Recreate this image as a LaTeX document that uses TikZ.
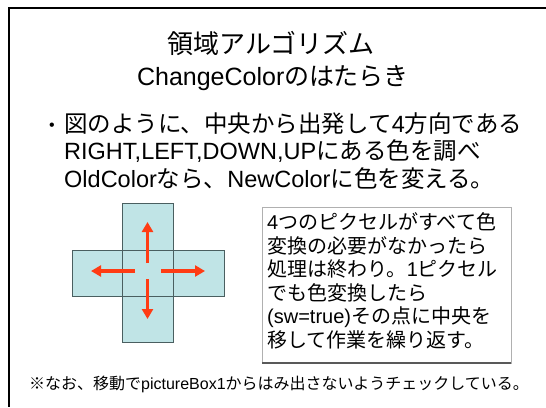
\documentclass[tikz,border=0pt]{standalone}
\usepackage{fontspec}
\setmainfont{Liberation Sans}
\newfontfamily\jp{Noto Sans CJK JP}
\newcommand{\J}[1]{{\jp #1}}
\usetikzlibrary{arrows.meta}
\definecolor{crossfill}{HTML}{C0E4E6}
\definecolor{crossline}{HTML}{4A5F60}
\definecolor{arrowred}{HTML}{FF3C14}
\definecolor{boxline}{HTML}{B0B0B0}
\tikzset{
  txt/.style={inner sep=0pt, anchor=base west, text=black},
  ttl/.style={inner sep=0pt, anchor=base, text=black},
  bul/.style={txt, font=\fontsize{23.5}{27}\selectfont},
  boxtxt/.style={txt, font=\fontsize{20}{24}\selectfont},
  arm/.style={fill=crossfill, draw=none},
  armline/.style={draw=crossline, line width=0.8pt},
  dirarrow/.style={draw=arrowred, line width=3.2pt, -{Triangle[length=10pt,width=11pt]}},
}
\begin{document}
\begin{tikzpicture}[x=1pt,y=-1pt]
\useasboundingbox (0,0) rectangle (546,407);
\fill[white] (0,0) rectangle (546,407);
% frame
\draw[line width=2pt, black] (546,7.5) -- (8.5,7.5) -- (8.5,407);
% title
\node[ttl, font=\fontsize{26}{30}\selectfont] (t1) at (271,53) {\J{領域アルゴリズム}};
\node[ttl, font=\fontsize{25}{30}\selectfont] (t2) at (273,85) {ChangeColor\J{のはたらき}};
% bullet
\node[txt, font=\fontsize{16}{20}\selectfont] (b0) at (49,130) {•};
\node[bul] (b1) at (64,132) {\J{図のように、中央から出発して}4\J{方向である}};
\node[bul] (b2) at (64,159.5) {RIGHT,LEFT,DOWN,UP\J{にある色を調べ}};
\node[bul] (b3) at (64,187) {OldColor\J{なら、}NewColor\J{に色を変える。}};
% cross
\fill[arm] (122,203) rectangle (173,342);
\fill[arm] (72,250) rectangle (224,296);
\draw[armline] (122,203) rectangle (173,342);
\draw[armline] (72,250) rectangle (224,296);
\coordinate (c) at (147.5,271);
\coordinate (us) at (147.5,263); \coordinate (ue) at (147.5,222);
\coordinate (ds) at (147.5,279); \coordinate (de) at (147.5,319);
\coordinate (rs) at (161,271);   \coordinate (re) at (205,271);
\coordinate (ls) at (135,271);   \coordinate (le) at (91,271);
\draw[dirarrow] (us) -- (ue);
\draw[dirarrow] (ds) -- (de);
\draw[dirarrow] (rs) -- (re);
\draw[dirarrow] (ls) -- (le);
% text box
\draw[boxline, line width=0.8pt] (262,207) rectangle (511,363);
\draw[gray!70!black, line width=1.2pt] (262,363) -- (511,363);
\node[boxtxt] (x1) at (267,229.5) {4\J{つのピクセルがすべて色}};
\node[boxtxt] (x2) at (267,253) {\J{変換の必要がなかったら}};
\node[boxtxt] (x3) at (267,276.5) {\J{処理は終わり。}1\J{ピクセル}};
\node[boxtxt] (x4) at (267,300) {\J{でも色変換したら}};
\node[boxtxt] (x5) at (267,323.5) {(sw=true)\J{その点に中央を}};
\node[boxtxt] (x6) at (267,347) {\J{移して作業を繰り返す。}};
% note
\node[txt, font=\fontsize{16}{19}\selectfont] (n) at (29,389) {\J{※なお、移動で}pictureBox1\J{からはみ出さないようチェックしている。}};
\end{tikzpicture}
\end{document}
